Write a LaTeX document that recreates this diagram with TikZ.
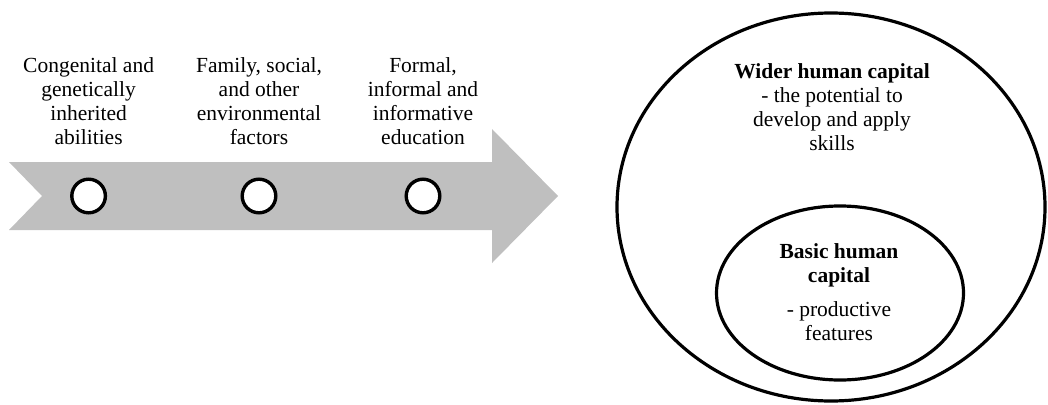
\documentclass[tikz,border=0pt]{standalone}
\usepackage{fontspec}
\setmainfont{Liberation Serif}
\usetikzlibrary{shapes.geometric}
\definecolor{arrowgray}{RGB}{191,191,191}
\begin{document}
\begin{tikzpicture}[x=1pt,y=-1pt,
  lbl/.style={align=center,font=\fontsize{21.5}{24}\selectfont,inner sep=0pt,anchor=north},
  ring/.style={circle,draw=black,line width=3.4pt,fill=white,minimum size=33.6pt,inner sep=0pt},
  oval/.style={ellipse,draw=black,line width=3.2pt,inner sep=0pt}]
\useasboundingbox (0,0) rectangle (1048,404);
% timeline arrow
\fill[arrowgray] (9,162) -- (492,162) -- (492,129) -- (558,196) -- (492,263)
  -- (492,230) -- (9,230) -- (42,196) -- cycle;
% stage markers
\node[ring] (c1) at (88.6,196) {};
\node[ring] (c2) at (259,196) {};
\node[ring] (c3) at (423,196) {};
% stage labels
\node[lbl] (t1) at (88.6,57) {Congenital and\\genetically\\inherited\\abilities};
\node[lbl] (t2) at (259,57) {Family, social,\\and other\\environmental\\factors};
\node[lbl] (t3) at (423,57) {Formal,\\informal and\\informative\\education};
% capital ellipses
\node[oval,minimum width=428pt,minimum height=388pt] (outer) at (831,207) {};
\node[oval,minimum width=247pt,minimum height=174pt] (inner) at (840,293) {};
\node[lbl] (wider) at (832,63) {\textbf{Wider human capital}\\- the potential to\\develop and apply\\skills};
\node[lbl] (basic) at (839,243) {\textbf{Basic human}\\\textbf{capital}\\[10pt]- productive\\features};
\end{tikzpicture}
\end{document}
